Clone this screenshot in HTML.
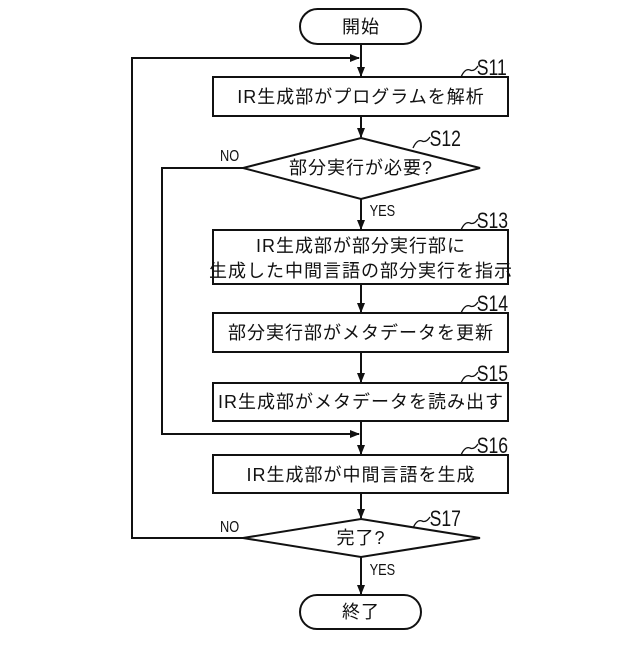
<!DOCTYPE html>
<html><head><meta charset="utf-8"><style>
body{margin:0;background:#fff}
svg text{font-family:"Liberation Sans","Noto Sans CJK JP",sans-serif;fill:#111}
.j{font-size:18px;letter-spacing:1px}
.s{font-size:22px}
.y{font-size:16px}
</style></head><body>
<svg width="640" height="640" viewBox="0 0 640 640" xmlns="http://www.w3.org/2000/svg">
<defs><marker id="a" markerWidth="10" markerHeight="10" refX="9" refY="5" orient="auto" markerUnits="userSpaceOnUse"><path d="M0,1 L10,5 L0,9 z" fill="#111"/></marker></defs>
<g stroke="#111" stroke-width="2" fill="none">
<rect x="300" y="9" width="121" height="35" rx="17.5"/>
<line x1="361" y1="44" x2="361" y2="76" marker-end="url(#a)"/>
<rect x="213" y="77" width="295" height="39"/>
<line x1="361" y1="116" x2="361" y2="137" marker-end="url(#a)"/>
<polygon points="361,138 480,168 361,199 243,168"/>
<line x1="361" y1="199" x2="361" y2="229" marker-end="url(#a)"/>
<rect x="213" y="230" width="295" height="54"/>
<line x1="361" y1="284" x2="361" y2="312" marker-end="url(#a)"/>
<rect x="213" y="313" width="295" height="39"/>
<line x1="361" y1="352" x2="361" y2="382" marker-end="url(#a)"/>
<rect x="213" y="383" width="295" height="38"/>
<line x1="361" y1="421" x2="361" y2="454" marker-end="url(#a)"/>
<rect x="213" y="455" width="295" height="38"/>
<line x1="361" y1="493" x2="361" y2="518" marker-end="url(#a)"/>
<polygon points="361,519 480,538 361,557 243,538"/>
<line x1="361" y1="557" x2="361" y2="594" marker-end="url(#a)"/>
<rect x="300" y="595" width="121" height="34" rx="17"/>
<polyline points="243,168 162,168 162,434 359,434" marker-end="url(#a)"/>
<polyline points="243,538 132,538 132,58 359,58" marker-end="url(#a)"/>
<g stroke-width="1.3">
<path d="M461,77 q4,-9 9,-7 q4,2 8,-4"/>
<path d="M413,148 q4,-9 9,-7 q4,2 8,-4"/>
<path d="M461,230 q4,-9 9,-7 q4,2 8,-4"/>
<path d="M461,313 q4,-9 9,-7 q4,2 8,-4"/>
<path d="M461,383 q4,-9 9,-7 q4,2 8,-4"/>
<path d="M461,455 q4,-9 9,-7 q4,2 8,-4"/>
<path d="M413,528 q4,-9 9,-7 q4,2 8,-4"/>
</g>
</g>
<g text-anchor="middle" class="j">
<text x="361" y="33">開始</text>
<text x="361" y="103">IR生成部がプログラムを解析</text>
<text x="361" y="174">部分実行が必要?</text>
<text x="361" y="252">IR生成部が部分実行部に</text>
<text x="361" y="277">生成した中間言語の部分実行を指示</text>
<text x="361" y="339">部分実行部がメタデータを更新</text>
<text x="361" y="408">IR生成部がメタデータを読み出す</text>
<text x="361" y="481">IR生成部が中間言語を生成</text>
<text x="361" y="544">完了?</text>
<text x="361" y="618">終了</text>
</g>
<g class="s" transform="scale(0.8,1)">
<text x="596" y="75">S11</text>
<text x="537" y="146">S12</text>
<text x="596" y="228">S13</text>
<text x="596" y="311">S14</text>
<text x="596" y="381">S15</text>
<text x="596" y="453">S16</text>
<text x="537" y="526">S17</text>
</g>
<g class="y" transform="scale(0.8,1)">
<text x="275" y="161">NO</text>
<text x="462" y="216">YES</text>
<text x="275" y="532">NO</text>
<text x="462" y="575">YES</text>
</g>
</svg>
</body></html>
